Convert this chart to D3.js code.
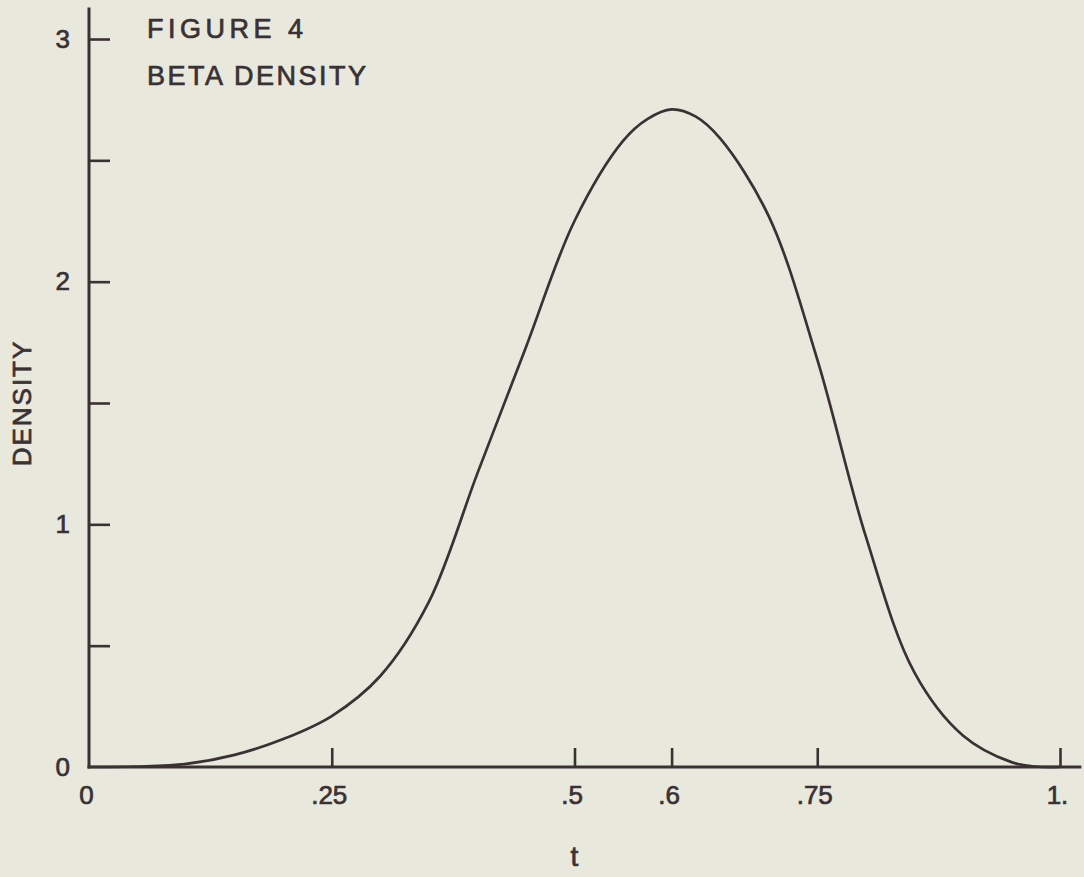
<!DOCTYPE html>
<html>
<head>
<meta charset="utf-8">
<script src="https://cdn.jsdelivr.net/npm/d3@7"></script>
<style>
  body { margin: 0; background: #e8e8dc; }
  svg { display: block; }
  text { font-family: "Liberation Sans", Arial, sans-serif; fill: #3a3134; stroke: #3a3134; stroke-width: 0.7px; }
</style>
</head>
<body>
<script>
// valeurs (t, densité)
const tValues = [0, 0.05, 0.10, 0.15, 0.20, 0.25, 0.30, 0.35, 0.40, 0.45, 0.50, 0.55, 0.575, 0.60,
  0.625, 0.65, 0.70, 0.75, 0.80, 0.85, 0.90, 0.95, 0.975, 1.0]
const densityValues = [0, 0.002, 0.013, 0.05, 0.115, 0.21, 0.375, 0.68, 1.21, 1.73, 2.25, 2.58, 2.67, 2.71,
  2.68, 2.59, 2.27, 1.68, 0.95, 0.39, 0.13, 0.02, 0.002, 0]

// graduations
const xTicks = [0, 0.25, 0.5, 0.6, 0.75, 1]
const xTickLabels = ["0", ".25", ".5", ".6", ".75", "1."]
const yTicks = [0, 0.5, 1, 1.5, 2, 2.5, 3]
const yTickLabels = ["0", "", "1", "", "2", "", "3"]

const titleLines = ["FIGURE 4", "BETA DENSITY"]
const xLabel = "t"
const yLabel = "DENSITY"

const ink = "#3a3134"
const width = 1084, height = 877

const svg = d3.select("body")
  .append("svg")
  .attr("width", width)
  .attr("height", height)

svg.append("rect")
  .attr("width", width)
  .attr("height", height)
  .attr("fill", "#e8e8dc")

/* ECHELLES ----------------------------------------------------------- */
const x = d3.scaleLinear().domain([0, 1]).range([89, 1060])
const y = d3.scaleLinear().domain([0, 3]).range([767, 39])

/* AXES --------------------------------------------------------------- */
// axe X, traits vers le haut
const gx = svg.append("g")
  .attr("transform", "translate(0," + y(0) + ")")
  .call(d3.axisBottom(x)
    .tickValues(xTicks)
    .tickSize(-19)
    .tickPadding(19)
    .tickFormat((d, i) => xTickLabels[i]))

// axe Y, traits vers la droite
const gy = svg.append("g")
  .attr("transform", "translate(" + x(0) + ",0)")
  .call(d3.axisLeft(y)
    .tickValues(yTicks)
    .tickSize(-21)
    .tickPadding(19)
    .tickFormat((d, i) => yTickLabels[i]))

svg.selectAll(".domain").remove()
svg.selectAll(".tick line")
  .attr("stroke", ink)
  .attr("stroke-width", 2.6)
  .attr("opacity", d => d === 0 ? 0 : 1)
svg.selectAll(".tick text")
  .style("font-size", "26px")
  .attr("fill", ink)
gx.selectAll(".tick text").attr("dx", "-3")

// lignes des axes (un peu plus longues que les graduations)
svg.append("line")
  .attr("x1", x(0)).attr("x2", x(0))
  .attr("y1", y(0) + 1.5).attr("y2", y(3.13))
  .attr("stroke", ink).attr("stroke-width", 3)
svg.append("line")
  .attr("x1", x(0) - 1.5).attr("x2", x(1.022))
  .attr("y1", y(0)).attr("y2", y(0))
  .attr("stroke", ink).attr("stroke-width", 3)

/* TEXTES ------------------------------------------------------------- */
svg.append("text")
  .attr("x", 147).attr("y", 38)
  .style("font-size", "27px")
  .style("letter-spacing", "4.5px")
  .text(titleLines[0])

svg.append("text")
  .attr("x", 147).attr("y", 85)
  .style("font-size", "27px")
  .style("letter-spacing", "2.5px")
  .text(titleLines[1])

svg.append("text")
  .attr("x", x(0.5)).attr("y", 866)
  .attr("text-anchor", "middle")
  .style("font-size", "28px")
  .text(xLabel)

svg.append("text")
  .attr("transform", "translate(31," + y(1.5) + ") rotate(-90)")
  .attr("text-anchor", "middle")
  .style("font-size", "26px")
  .style("letter-spacing", "2px")
  .text(yLabel)

/* COURBE ------------------------------------------------------------- */
const points = tValues.map((t, i) => [t, densityValues[i]])

svg.append("path")
  .datum(points)
  .attr("fill", "none")
  .attr("stroke", ink)
  .attr("stroke-width", 2.7)
  .attr("d", d3.line()
    .x(d => x(d[0]))
    .y(d => y(Math.max(0, d[1])))
    .curve(d3.curveCatmullRom.alpha(0.5)))
</script>
</body>
</html>
